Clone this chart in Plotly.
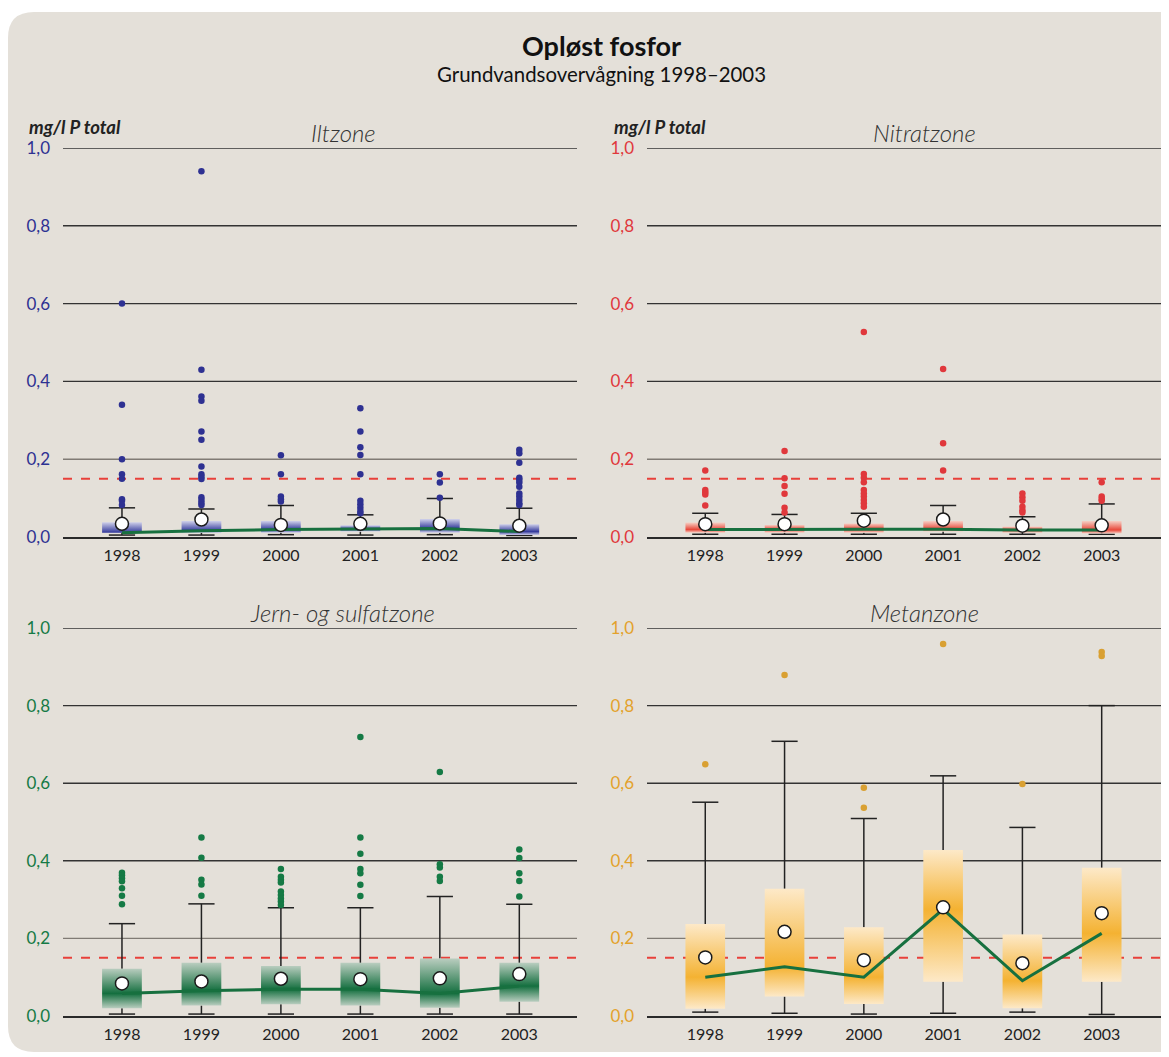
import plotly.graph_objects as go

# ---- data ----
years = [1998, 1999, 2000, 2001, 2002, 2003]
y_ticks = [0, 0.2, 0.4, 0.6, 0.8, 1.0]
y_ticktext = ["0,0", "0,2", "0,4", "0,6", "0,8", "1,0"]
limit_value = 0.15

# Iltzone
ilt_low = [0.005, 0.005, 0.006, 0.005, 0.006, 0.004]
ilt_q1 = [0.011, 0.011, 0.011, 0.014, 0.011, 0.005]
ilt_med = [0.011, 0.016, 0.019, 0.020, 0.022, 0.014]
ilt_q3 = [0.038, 0.041, 0.041, 0.030, 0.046, 0.033]
ilt_high = [0.075, 0.072, 0.081, 0.057, 0.099, 0.074]
ilt_mean = [0.034, 0.045, 0.031, 0.034, 0.035, 0.029]
ilt_out = [
    [0.60, 0.34, 0.20, 0.161, 0.15, 0.097, 0.093, 0.082],
    [0.94, 0.43, 0.361, 0.35, 0.271, 0.25, 0.181, 0.161, 0.155, 0.149, 0.102, 0.095, 0.088, 0.082],
    [0.21, 0.161, 0.104, 0.097, 0.091],
    [0.331, 0.271, 0.231, 0.211, 0.161, 0.093, 0.084, 0.075, 0.067, 0.061],
    [0.161, 0.14, 0.101],
    [0.224, 0.215, 0.191, 0.152, 0.147, 0.14, 0.129, 0.112, 0.104, 0.095, 0.087, 0.082],
]

# Nitratzone
nit_low = [0.007, 0.007, 0.007, 0.007, 0.007, 0.007]
nit_q1 = [0.011, 0.011, 0.011, 0.014, 0.011, 0.009]
nit_med = [0.019, 0.020, 0.020, 0.020, 0.018, 0.018]
nit_q3 = [0.037, 0.031, 0.035, 0.041, 0.027, 0.041]
nit_high = [0.061, 0.058, 0.061, 0.081, 0.052, 0.085]
nit_mean = [0.033, 0.033, 0.042, 0.045, 0.029, 0.030]
nit_out = [
    [0.171, 0.121, 0.115, 0.109, 0.081],
    [0.221, 0.151, 0.131, 0.111, 0.075, 0.063],
    [0.527, 0.162, 0.152, 0.141, 0.121, 0.112, 0.104, 0.095, 0.087, 0.078],
    [0.432, 0.241, 0.171],
    [0.112, 0.102, 0.093, 0.078, 0.069, 0.063],
    [0.141, 0.104, 0.098, 0.093],
]

# Jern- og sulfatzone
jern_low = [0.005, 0.005, 0.005, 0.005, 0.005, 0.005]
jern_q1 = [0.020, 0.027, 0.030, 0.027, 0.021, 0.037]
jern_med = [0.058, 0.065, 0.069, 0.069, 0.058, 0.077]
jern_q3 = [0.122, 0.137, 0.129, 0.137, 0.148, 0.137]
jern_high = [0.238, 0.289, 0.279, 0.279, 0.308, 0.288]
jern_mean = [0.084, 0.089, 0.096, 0.095, 0.097, 0.108]
jern_out = [
    [0.369, 0.363, 0.355, 0.347, 0.329, 0.31, 0.288],
    [0.46, 0.408, 0.351, 0.339, 0.31],
    [0.379, 0.359, 0.351, 0.344, 0.321, 0.312, 0.303, 0.295, 0.286],
    [0.719, 0.46, 0.418, 0.379, 0.368, 0.338, 0.309],
    [0.629, 0.391, 0.383, 0.359, 0.348],
    [0.429, 0.407, 0.368, 0.348, 0.308],
]

# Metanzone
met_low = [0.010, 0.007, 0.005, 0.007, 0.010, 0.004]
met_q1 = [0.019, 0.050, 0.031, 0.088, 0.020, 0.088]
met_med = [0.100, 0.127, 0.100, 0.275, 0.091, 0.213]
met_q3 = [0.237, 0.328, 0.229, 0.428, 0.210, 0.382]
met_high = [0.551, 0.708, 0.509, 0.619, 0.486, 0.800]
met_mean = [0.151, 0.217, 0.144, 0.280, 0.136, 0.265]
met_out = [[0.649], [0.879], [0.588, 0.537], [0.959], [0.598], [0.938, 0.928]]

# ---- layout helpers ----
W, H = 1169, 1057
OFF = 8  # page body margin around the plot div
BG = "#e4e0d9"
FONT = "Lato"
BOX_HALF = 0.25
CAP_HALF = 0.165


def fx(p):
    return (p - OFF) / W


def fy(p):
    return 1 - (p - OFF) / H


panels = [
    dict(title="Iltzone", low=ilt_low, q1=ilt_q1, med=ilt_med, q3=ilt_q3, high=ilt_high,
         mean=ilt_mean, out=ilt_out, sat="#343a9c", light="#cfd0ea", dot="#2e3192",
         tick="#2e3192", xpx=(63, 577), ypx=(148, 537), xr=[1997.258, 2003.726],
         cx=343, unit=27),
    dict(title="Nitratzone", low=nit_low, q1=nit_q1, med=nit_med, q3=nit_q3, high=nit_high,
         mean=nit_mean, out=nit_out, sat="#e8473a", light="#f6cfc4", dot="#e0383c",
         tick="#e0383c", xpx=(647, 1169), ypx=(148, 537), xr=[1997.265, 2003.849],
         cx=924, unit=612),
    dict(title="Jern- og sulfatzone", low=jern_low, q1=jern_q1, med=jern_med, q3=jern_q3,
         high=jern_high, mean=jern_mean, out=jern_out, sat="#146f3f", light="#b9cdbf",
         dot="#157a45", tick="#157a45", xpx=(63, 577), ypx=(628, 1016),
         xr=[1997.258, 2003.726], cx=342, unit=None),
    dict(title="Metanzone", low=met_low, q1=met_q1, med=met_med, q3=met_q3, high=met_high,
         mean=met_mean, out=met_out, sat="#f4b232", light="#fde9c8", dot="#d9a032",
         tick="#e3a22c", xpx=(647, 1169), ypx=(628, 1016), xr=[1997.265, 2003.849],
         cx=924, unit=None),
]

fig = go.Figure()
shapes = []
annotations = []

# rounded beige background panel
x0, x1, y0, y1 = fx(8), fx(1185), fy(12), fy(1052)
rx, ry = 26 / W, 26 / H
shapes.append(dict(
    type="path", xref="paper", yref="paper", layer="below", line=dict(width=0), fillcolor=BG,
    path=(f"M {x0 + rx},{y0} L {x1 - rx},{y0} Q {x1},{y0} {x1},{y0 - ry} "
          f"L {x1},{y1 + ry} Q {x1},{y1} {x1 - rx},{y1} L {x0 + rx},{y1} "
          f"Q {x0},{y1} {x0},{y1 + ry} L {x0},{y0 - ry} Q {x0},{y0} {x0 + rx},{y0} Z"),
))

for i, p in enumerate(panels):
    sfx = "" if i == 0 else str(i + 1)
    xa, ya = "x" + sfx, "y" + sfx

    # gridlines (0,2 is lighter) and the red dashed limit
    for v in y_ticks[1:]:
        shapes.append(dict(type="line", xref=xa, yref=ya, x0=p["xr"][0], x1=p["xr"][1],
                           y0=v, y1=v, layer="below",
                           line=dict(color="#807b75" if v == 0.2 else "#333333", width=1.4)))
    shapes.append(dict(type="line", xref=xa, yref=ya, x0=p["xr"][0], x1=p["xr"][1],
                       y0=limit_value, y1=limit_value, layer="below",
                       line=dict(color="#e8403a", width=2, dash="dash")))

    # whiskers + caps
    wx, wy = [], []
    for yr, lo, a, b, hi in zip(years, p["low"], p["q1"], p["q3"], p["high"]):
        wx += [yr, yr, None, yr - CAP_HALF, yr + CAP_HALF, None,
               yr, yr, None, yr - CAP_HALF, yr + CAP_HALF, None]
        wy += [b, hi, None, hi, hi, None, a, lo, None, lo, lo, None]
    fig.add_trace(go.Scatter(x=wx, y=wy, mode="lines", xaxis=xa, yaxis=ya,
                             line=dict(color="#222222", width=1.5), hoverinfo="skip"))

    # gradient boxes
    for yr, a, m, b in zip(years, p["q1"], p["med"], p["q3"]):
        frac = min(max((m - a) / (b - a), 0.02), 0.98)
        fig.add_trace(go.Scatter(
            x=[yr - BOX_HALF, yr + BOX_HALF, yr + BOX_HALF, yr - BOX_HALF, yr - BOX_HALF],
            y=[a, a, b, b, a], mode="lines", fill="toself", xaxis=xa, yaxis=ya,
            line=dict(width=0),
            fillgradient=dict(type="vertical",
                              colorscale=[[0, p["light"]], [frac, p["sat"]], [1, p["light"]]]),
            hoverinfo="skip"))

    # median line
    fig.add_trace(go.Scatter(x=years, y=p["med"], mode="lines", xaxis=xa, yaxis=ya,
                             line=dict(color="#17703f", width=3), cliponaxis=False))

    # mean circles
    fig.add_trace(go.Scatter(x=years, y=p["mean"], mode="markers", xaxis=xa, yaxis=ya,
                             marker=dict(size=13, color="white",
                                         line=dict(color="#1a1a1a", width=1.5)),
                             cliponaxis=False))

    # outliers
    ox, oy = [], []
    for yr, vals in zip(years, p["out"]):
        ox += [yr] * len(vals)
        oy += vals
    fig.add_trace(go.Scatter(x=ox, y=oy, mode="markers", xaxis=xa, yaxis=ya,
                             marker=dict(size=6.5, color=p["dot"]), cliponaxis=False))

    fig.layout["xaxis" + sfx] = dict(
        domain=[fx(p["xpx"][0]), fx(p["xpx"][1])], anchor=ya, range=p["xr"],
        tickvals=years, ticktext=[str(y) for y in years], showgrid=False, zeroline=False,
        showline=True, linecolor="#2a2a2a", linewidth=1.5, ticks="", automargin=False,
        tickfont=dict(family=FONT, size=16, color="#222222"), ticklabelstandoff=3)
    fig.layout["yaxis" + sfx] = dict(
        domain=[fy(p["ypx"][1]), fy(p["ypx"][0])], anchor=xa, range=[0, 1.0],
        tickvals=y_ticks, ticktext=y_ticktext, showgrid=False, zeroline=False,
        showline=False, ticks="", automargin=False,
        tickfont=dict(family=FONT, size=17, color=p["tick"]), ticklabelstandoff=12)

    annotations.append(dict(text=p["title"], x=fx(p["cx"]), y=fy(p["ypx"][0] - 16),
                            xref="paper", yref="paper", showarrow=False,
                            xanchor="center", yanchor="middle",
                            font=dict(family=FONT, size=24, color="#333333",
                                      style="italic", weight=300)))
    if p["unit"] is not None:
        annotations.append(dict(text="<b><i>mg/l P total</i></b>", x=fx(p["unit"]), y=fy(127),
                                xref="paper", yref="paper", showarrow=False,
                                xanchor="left", yanchor="middle",
                                font=dict(family=FONT, size=18.5, color="#222222")))

annotations.append(dict(text="<b>Opløst fosfor</b>", x=fx(601), y=fy(45), xref="paper",
                        yref="paper", showarrow=False, xanchor="center", yanchor="middle",
                        font=dict(family=FONT, size=27, color="#111111")))
annotations.append(dict(text="Grundvandsovervågning 1998–2003", x=fx(601), y=fy(74),
                        xref="paper", yref="paper", showarrow=False, xanchor="center",
                        yanchor="middle",
                        font=dict(family=FONT, size=20.4, color="#111111")))

fig.update_layout(
    width=W, height=H, margin=dict(l=0, r=0, t=0, b=0, autoexpand=False),
    paper_bgcolor="white", plot_bgcolor="rgba(0,0,0,0)",
    showlegend=False, shapes=shapes, annotations=annotations,
    font=dict(family=FONT),
)

fig.write_html("out.html")
